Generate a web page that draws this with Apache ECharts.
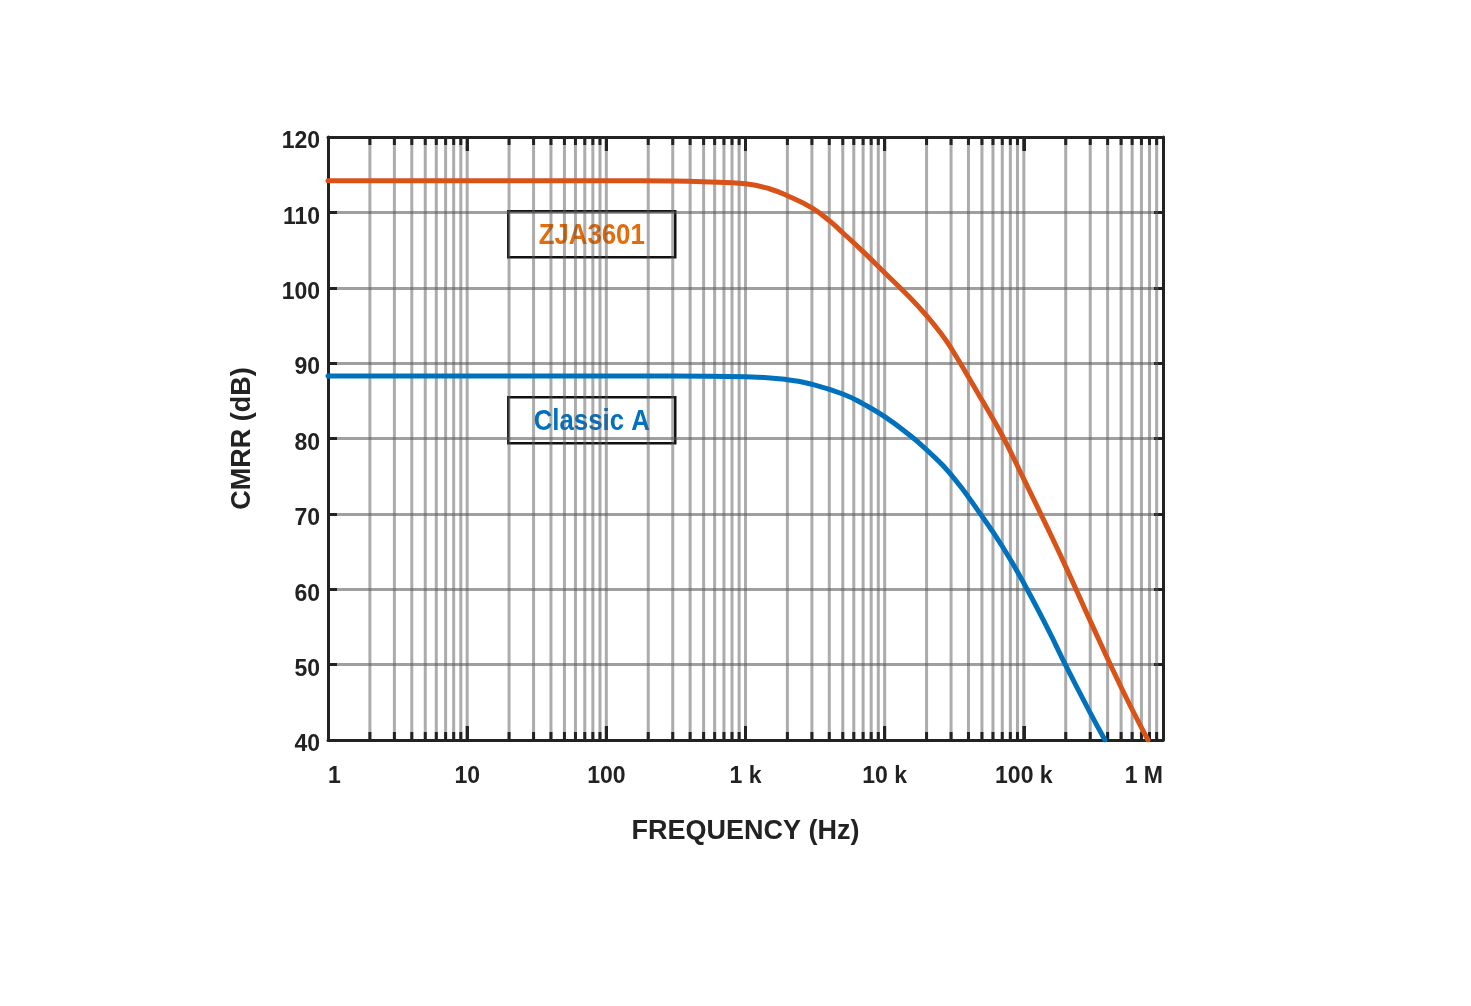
<!DOCTYPE html>
<html>
<head>
<meta charset="utf-8">
<script src="https://cdn.jsdelivr.net/npm/echarts@6/dist/echarts.min.js"></script>
<style>
html,body{margin:0;padding:0;background:#fff;}
#chart{width:1471px;height:1006px;}
</style>
</head>
<body>
<div id="chart"></div>
<script>
// ---- data ----
const zjaFreq = [1, 10, 100, 300, 500, 1000, 1500, 2000, 3000, 4000, 5000, 7000, 10000, 15000, 20000, 25000, 30000, 50000, 70000, 100000, 150000, 200000, 300000, 500000, 780000];
const zjaCMRR = [114.2, 114.2, 114.2, 114.15, 114.05, 113.8, 113.1, 112.2, 110.6, 108.9, 107.3, 104.8, 102.0, 98.8, 96.3, 94.1, 92.0, 85.1, 80.4, 74.6, 67.9, 63.0, 55.8, 47.0, 40.0];
const classicFreq = [1, 10, 100, 300, 1000, 2000, 3000, 5000, 7000, 10000, 15000, 20000, 30000, 50000, 70000, 100000, 150000, 200000, 300000, 383000];
const classicCMRR = [88.3, 88.3, 88.3, 88.3, 88.2, 87.8, 87.2, 85.9, 84.6, 82.9, 80.5, 78.5, 75.2, 69.7, 65.7, 60.8, 54.6, 49.9, 43.6, 40.0];
const xTickValues = [1, 10, 100, 1000, 10000, 100000, 1000000];
const xTickLabels = ['1', '10', '100', '1 k', '10 k', '100 k', '1 M'];
const yTickValues = [40, 50, 60, 70, 80, 90, 100, 110, 120];
const seriesNames = ['ZJA3601', 'Classic A'];
const xTitle = 'FREQUENCY (Hz)';
const yTitle = 'CMRR (dB)';

// vertical grid positions (2..9 in each decade, plus inner decades)
const vGrid = [];
for (let e = 0; e < 6; e++) {
  for (let m = 1; m <= 9; m++) {
    const v = m * Math.pow(10, e);
    if (v > 1) vGrid.push([v, m === 1 ? 1 : 0]);
  }
}

const FONT = '"Liberation Sans", Arial, sans-serif';
const ORANGE = '#D95319';
const BLUE = '#0072BD';

const chart = echarts.init(document.getElementById('chart'), null, {renderer: 'canvas'});

function labelFor(v) {
  for (let i = 0; i < xTickValues.length; i++) {
    if (Math.abs(v - xTickValues[i]) / xTickValues[i] < 1e-6) return xTickLabels[i];
  }
  return '';
}

const option = {
  backgroundColor: '#fff',
  animation: false,
  grid: {left: 328, top: 137, right: 308, bottom: 266, containLabel: false},
  xAxis: [{
    type: 'log', logBase: 10, min: 1, max: 1000000,
    position: 'bottom',
    name: xTitle, nameLocation: 'middle', nameGap: 78,
    nameTextStyle: {fontFamily: FONT, fontWeight: 'bold', fontSize: 27, color: '#222'},
    axisLine: {show: true, lineStyle: {color: '#222', width: 3}},
    axisTick: {show: true, inside: true, length: 14, lineStyle: {color: '#222', width: 3}},
    axisLabel: {
      show: true, margin: 25, fontFamily: FONT, fontWeight: 'bold', fontSize: 23, color: '#222',
      formatter: labelFor, alignMinLabel: 'left', alignMaxLabel: 'right', showMinLabel: true, showMaxLabel: true
    },
    splitLine: {show: false},
    minorTick: {show: false}, minorSplitLine: {show: false}
  }, {
    type: 'log', logBase: 10, min: 1, max: 1000000,
    position: 'top',
    axisLine: {show: true, lineStyle: {color: '#222', width: 3}},
    axisTick: {show: true, inside: true, length: 14, lineStyle: {color: '#222', width: 3}},
    axisLabel: {show: false},
    splitLine: {show: false}
  }],
  yAxis: [{
    type: 'value', min: 40, max: 120, interval: 10,
    position: 'left',
    name: yTitle, nameLocation: 'middle', nameGap: 72, nameRotate: 90,
    nameTextStyle: {fontFamily: FONT, fontWeight: 'bold', fontSize: 27, color: '#222'},
    axisLine: {show: true, lineStyle: {color: '#222', width: 3}},
    axisTick: {show: true, inside: true, length: 9, lineStyle: {color: '#222', width: 3}},
    axisLabel: {
      show: true, margin: 8, fontFamily: FONT, fontWeight: 'bold', fontSize: 23, color: '#222',
      verticalAlign: 'top', lineHeight: 10,
      formatter: function (v) { return yTickValues.indexOf(v) >= 0 ? String(v) : ''; }
    },
    splitLine: {show: true, lineStyle: {color: 'rgba(80,80,80,0.55)', width: 3}}
  }, {
    type: 'value', min: 40, max: 120, interval: 10,
    position: 'right',
    axisLine: {show: true, lineStyle: {color: '#222', width: 3}},
    axisTick: {show: true, inside: true, length: 9, lineStyle: {color: '#222', width: 3}},
    axisLabel: {show: false},
    splitLine: {show: false}
  }],
  series: [{
    type: 'custom',
    name: 'vgrid',
    xAxisIndex: 0, yAxisIndex: 0,
    z: 1,
    silent: true,
    data: vGrid,
    renderItem: function (params, api) {
      const v = api.value(0);
      const major = api.value(1) === 1;
      const top = api.coord([v, 120]);
      const bot = api.coord([v, 40]);
      const tl = major ? 14 : 8;
      return {
        type: 'group',
        children: [{
          type: 'line',
          shape: {x1: bot[0], y1: bot[1], x2: top[0], y2: top[1]},
          style: {stroke: 'rgba(90,90,90,0.5)', lineWidth: 3}
        }, {
          type: 'line',
          shape: {x1: bot[0], y1: bot[1], x2: bot[0], y2: bot[1] - tl},
          style: {stroke: '#222', lineWidth: 3}
        }, {
          type: 'line',
          shape: {x1: top[0], y1: top[1], x2: top[0], y2: top[1] + tl},
          style: {stroke: '#222', lineWidth: 3}
        }]
      };
    }
  }, {
    type: 'line',
    name: seriesNames[0],
    z: 3,
    data: zjaFreq.map((f, i) => [f, zjaCMRR[i]]),
    showSymbol: false, symbol: 'none',
    smooth: 0.45,
    lineStyle: {color: ORANGE, width: 5, cap: 'round'},
    itemStyle: {color: ORANGE}
  }, {
    type: 'line',
    name: seriesNames[1],
    z: 3,
    data: classicFreq.map((f, i) => [f, classicCMRR[i]]),
    showSymbol: false, symbol: 'none',
    smooth: 0.5,
    lineStyle: {color: BLUE, width: 5, cap: 'round'},
    itemStyle: {color: BLUE}
  }],
  graphic: [{
    type: 'group', left: 507, top: 210, z: 10,
    children: [{
      type: 'rect', shape: {x: 0, y: 0, width: 167, height: 46},
      style: {fill: '#fff', stroke: '#111', lineWidth: 2.5}
    }, {
      type: 'text', x: 83.5, y: 24, scaleX: 0.86,
      style: {text: seriesNames[0], fill: '#E46C0A', font: 'bold 30px ' + FONT,
        align: 'center', verticalAlign: 'middle', textAlign: 'center', textVerticalAlign: 'middle'}
    }]
  }, {
    type: 'group', left: 507, top: 396, z: 10,
    children: [{
      type: 'rect', shape: {x: 0, y: 0, width: 167, height: 46},
      style: {fill: '#fff', stroke: '#111', lineWidth: 2.5}
    }, {
      type: 'text', x: 83.5, y: 24, scaleX: 0.86,
      style: {text: seriesNames[1], fill: '#0070C0', font: 'bold 30px ' + FONT,
        align: 'center', verticalAlign: 'middle', textAlign: 'center', textVerticalAlign: 'middle'}
    }]
  }]
};
chart.setOption(option);
</script>
</body>
</html>
